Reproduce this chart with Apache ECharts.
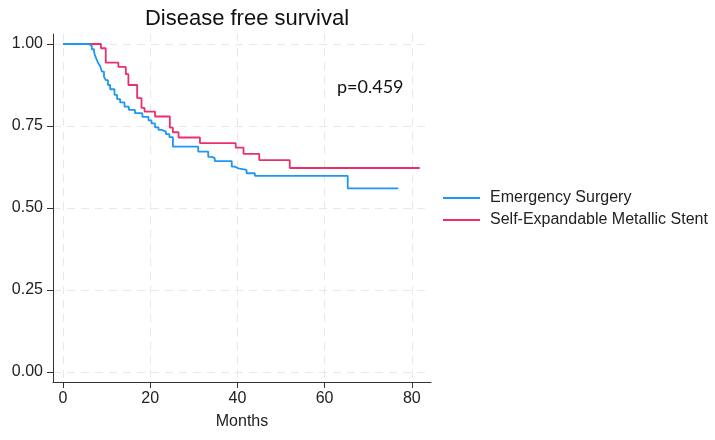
<!DOCTYPE html>
<html>
<head>
<meta charset="utf-8">
<script src="https://cdn.jsdelivr.net/npm/echarts@6/dist/echarts.min.js"></script>
<style>html,body{margin:0;padding:0;background:#fff}#c{width:715px;height:440px}</style>
</head>
<body>
<div id="c"></div>
<script>
// Kaplan-Meier step data: [month, survival]
const esTimes = [0, 6.0, 6.6, 7.1, 7.3, 7.7, 8.1, 8.5, 8.9, 9.4, 9.8, 10.3, 10.8, 11.8, 12.4, 13.1, 14.1, 15.1, 16.5, 18.2, 19.6, 20.3, 21.1, 21.9, 22.6, 23.6, 24.4, 25.2, 31.0, 33.3, 34.1, 34.8, 38.7, 39.4, 40.2, 42.1, 44.0, 65.3, 76.9];
const esSurv  = [1.0, 0.994, 0.984, 0.977, 0.966, 0.953, 0.941, 0.933, 0.916, 0.900, 0.890, 0.875, 0.862, 0.845, 0.832, 0.822, 0.809, 0.799, 0.789, 0.778, 0.767, 0.758, 0.746, 0.738, 0.733, 0.725, 0.716, 0.687, 0.672, 0.656, 0.652, 0.643, 0.626, 0.621, 0.616, 0.606, 0.598, 0.560, 0.560];
const semsTimes = [0, 8.7, 9.8, 12.7, 14.4, 15.0, 17.0, 18.0, 18.7, 21.1, 24.5, 25.2, 26.5, 31.4, 39.6, 41.4, 45.0, 52.0, 81.8];
const semsSurv  = [1.0, 0.987, 0.943, 0.930, 0.908, 0.875, 0.835, 0.805, 0.794, 0.779, 0.745, 0.731, 0.715, 0.698, 0.684, 0.665, 0.646, 0.622, 0.622];
const xTicks = [0, 20, 40, 60, 80];
const yTicks = [0, 0.25, 0.5, 0.75, 1.0];
const seriesNames = ['Emergency Surgery', 'Self-Expandable Metallic Stent'];
const titleText = 'Disease free survival';
const pText = 'p=0.459';
const xName = 'Months';

const pair = (t, s) => t.map((v, i) => [v, s[i]]);
const FONT = '"Liberation Sans", Arial, sans-serif';
const BLUE = '#1f97f2';
const RED = '#ec2e6a';

const chart = echarts.init(document.getElementById('c'), null, {renderer: 'canvas'});
chart.setOption({
  animation: false,
  backgroundColor: '#ffffff',
  title: {
    text: titleText,
    left: 242, top: 3, textAlign: 'center',
    textStyle: {fontFamily: FONT, fontSize: 22, fontWeight: 'normal', color: '#111'}
  },
  legend: {
    orient: 'vertical',
    left: 438, top: 184,
    icon: 'rect', itemWidth: 37, itemHeight: 2, itemGap: 4,
    textStyle: {fontFamily: FONT, fontSize: 16, color: '#222', lineHeight: 18, padding: [0, 0, 0, 5]},
    data: seriesNames
  },
  grid: {left: 53, right: 284, top: 34, bottom: 58, containLabel: false},
  xAxis: {
    type: 'value', min: -2.3, max: 84.4,
    name: xName, nameLocation: 'middle', nameGap: 32,
    nameTextStyle: {fontFamily: FONT, fontSize: 16, color: '#222'},
    axisLine: {show: true, onZero: false, lineStyle: {color: '#333', width: 1}},
    axisTick: {show: true, length: 6, customValues: xTicks, lineStyle: {color: '#333'}},
    axisLabel: {customValues: xTicks, margin: 9, fontFamily: FONT, fontSize: 16, color: '#222'},
    splitLine: {show: true, lineStyle: {color: '#e8e8e8', type: [8, 6], width: 1}}
  },
  yAxis: {
    type: 'value', min: -0.0305, max: 1.0305,
    axisLine: {show: true, onZero: false, lineStyle: {color: '#333', width: 1}},
    axisTick: {show: true, length: 6, customValues: yTicks, lineStyle: {color: '#333'}},
    axisLabel: {customValues: yTicks, margin: 10, fontFamily: FONT, fontSize: 16, color: '#222',
      formatter: v => v.toFixed(2)},
    splitLine: {show: true, lineStyle: {color: '#e8e8e8', type: [8, 6], width: 1}}
  },
  graphic: [{
    type: 'text', left: 337, top: 78,
    style: {text: pText, font: '18px Lato, "Open Sans", sans-serif', fill: '#111'}
  }],
  series: [
    {name: seriesNames[0], type: 'line', step: 'end', symbol: 'none', data: pair(esTimes, esSurv),
      lineStyle: {color: BLUE, width: 1.8}, itemStyle: {color: BLUE}, z: 3},
    {name: seriesNames[1], type: 'line', step: 'end', symbol: 'none', data: pair(semsTimes, semsSurv),
      lineStyle: {color: RED, width: 1.8}, itemStyle: {color: RED}, z: 2}
  ]
});
</script>
</body>
</html>
